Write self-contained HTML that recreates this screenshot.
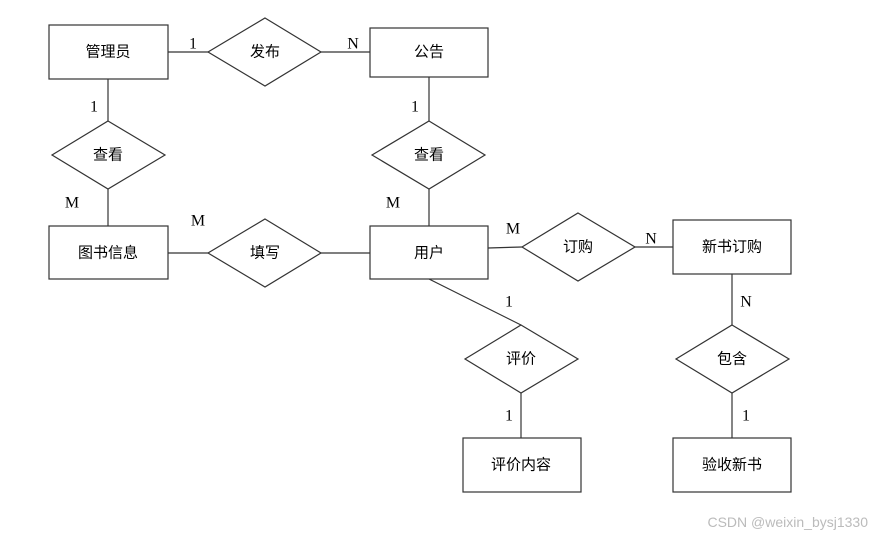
<!DOCTYPE html>
<html><head><meta charset="utf-8"><style>
html,body{margin:0;padding:0;background:#fff;}
svg{display:block}
.t{font-family:"Liberation Serif","Noto Serif CJK SC",serif;font-size:16px;fill:#000;}
.c{font-family:"Liberation Sans","Noto Sans CJK SC",sans-serif;font-size:15px;fill:#000;}
</style></head><body>
<svg width="872" height="537" viewBox="0 0 872 537" xmlns="http://www.w3.org/2000/svg">
<g fill="none" stroke="#333" stroke-width="1.2">
<!-- lines -->
<line x1="168" y1="52" x2="208" y2="52"/>
<line x1="321" y1="52" x2="370" y2="52"/>
<line x1="108" y1="79" x2="108" y2="121"/>
<line x1="108" y1="189" x2="108" y2="226"/>
<line x1="429" y1="77" x2="429" y2="121"/>
<line x1="429" y1="189" x2="429" y2="226"/>
<line x1="168" y1="253" x2="208" y2="253"/>
<line x1="321" y1="253" x2="370" y2="253"/>
<line x1="488" y1="248" x2="522" y2="247"/>
<line x1="635" y1="247" x2="673" y2="247"/>
<line x1="732" y1="274" x2="732" y2="325"/>
<line x1="732" y1="393" x2="732" y2="438"/>
<line x1="429" y1="279" x2="521" y2="325"/>
<line x1="521" y1="393" x2="521" y2="438"/>
<!-- boxes -->
<rect x="49" y="25" width="119" height="54"/>
<rect x="370" y="28" width="118" height="49"/>
<rect x="49" y="226" width="119" height="53"/>
<rect x="370" y="226" width="118" height="53"/>
<rect x="673" y="220" width="118" height="54"/>
<rect x="463" y="438" width="118" height="54"/>
<rect x="673" y="438" width="118" height="54"/>
<!-- diamonds -->
<polygon points="265,18 321,52 265,86 208,52"/>
<polygon points="108,121 165,155 108,189 52,155"/>
<polygon points="429,121 485,155 429,189 372,155"/>
<polygon points="265,219 321,253 265,287 208,253"/>
<polygon points="578,213 635,247 578,281 522,247"/>
<polygon points="521,325 578,359 521,393 465,359"/>
<polygon points="732,325 789,359 732,393 676,359"/>
</g>
<g class="c" text-anchor="middle" dominant-baseline="central">
<text x="108" y="52">管理员</text>
<text x="265" y="52">发布</text>
<text x="429" y="52">公告</text>
<text x="108" y="155">查看</text>
<text x="429" y="155">查看</text>
<text x="108" y="253">图书信息</text>
<text x="265" y="253">填写</text>
<text x="429" y="253">用户</text>
<text x="578" y="247">订购</text>
<text x="732" y="247">新书订购</text>
<text x="521" y="359">评价</text>
<text x="732" y="359">包含</text>
<text x="521" y="465">评价内容</text>
<text x="732" y="465">验收新书</text>
</g>
<g class="t" text-anchor="middle" dominant-baseline="central">
<text x="193" y="44">1</text>
<text x="353" y="44">N</text>
<text x="94" y="107">1</text>
<text x="72" y="203">M</text>
<text x="198" y="221">M</text>
<text x="415" y="107">1</text>
<text x="393" y="203">M</text>
<text x="513" y="229">M</text>
<text x="651" y="239">N</text>
<text x="509" y="302">1</text>
<text x="746" y="302">N</text>
<text x="509" y="416">1</text>
<text x="746" y="416">1</text>
</g>
<text x="868" y="522" text-anchor="end" dominant-baseline="central" font-family="Liberation Sans, sans-serif" font-size="14" fill="#bbb">CSDN @weixin_bysj1330</text>
</svg>
</body></html>
